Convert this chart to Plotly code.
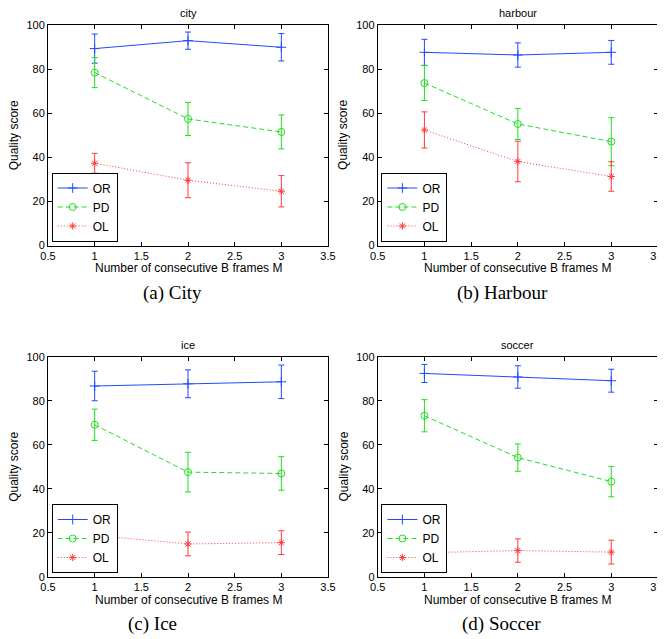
import plotly.graph_objects as go

# ---------------- data ----------------
m_frames = [1, 2, 3]
x_ticks = [0.5, 1, 1.5, 2, 2.5, 3, 3.5]
x_tick_labels = ["0.5", "1", "1.5", "2", "2.5", "3", "3.5"]
y_ticks = [0, 20, 40, 60, 80, 100]
y_tick_labels = ["0", "20", "40", "60", "80", "100"]

series_names = ["OR", "PD", "OL"]
panel_titles = ["city", "harbour", "ice", "soccer"]
captions = ["(a) City", "(b) Harbour", "(c) Ice", "(d) Soccer"]

city_or = [89.3, 92.9, 89.9]
city_or_err = [6.6, 3.9, 6.2]
city_pd = [78.4, 57.4, 51.5]
city_pd_err = [6.8, 7.5, 7.7]
city_ol = [37.3, 29.6, 24.6]
city_ol_err = [4.5, 7.9, 7.1]

harbour_or = [87.6, 86.4, 87.6]
harbour_or_err = [5.9, 5.5, 5.4]
harbour_pd = [73.7, 55.1, 47.1]
harbour_pd_err = [7.9, 7.0, 10.9]
harbour_ol = [52.4, 38.1, 31.3]
harbour_ol_err = [8.2, 9.2, 6.7]

ice_or = [86.7, 87.7, 88.6]
ice_or_err = [6.7, 6.3, 7.6]
ice_pd = [69.1, 47.6, 47.0]
ice_pd_err = [7.1, 9.0, 7.6]
ice_ol = [18.9, 15.0, 15.6]
ice_ol_err = [6.6, 5.4, 5.4]

soccer_or = [92.4, 90.8, 89.1]
soccer_or_err = [4.1, 5.1, 5.2]
soccer_pd = [73.2, 54.2, 43.3]
soccer_pd_err = [7.3, 6.2, 6.9]
soccer_ol = [11.0, 12.0, 11.3]
soccer_ol_err = [5.0, 5.3, 5.4]

panels = [
    [(city_or, city_or_err), (city_pd, city_pd_err), (city_ol, city_ol_err)],
    [(harbour_or, harbour_or_err), (harbour_pd, harbour_pd_err), (harbour_ol, harbour_ol_err)],
    [(ice_or, ice_or_err), (ice_pd, ice_pd_err), (ice_ol, ice_ol_err)],
    [(soccer_or, soccer_or_err), (soccer_pd, soccer_pd_err), (soccer_ol, soccer_ol_err)],
]

# ---------------- styling ----------------
# the page body has an 8px default margin, so the figure is drawn 8px smaller
OFF = 8
W, H = 665 - OFF, 639 - OFF
styles = [
    dict(color="#1f4cff", dash="solid", symbol="cross-thin-open", size=7),
    dict(color="#22dd22", dash="5px,3px", symbol="circle-open", size=7),
    dict(color="#ff3b3b", dash="1px,2px", symbol="asterisk-open", size=6),
]

def px_x(p):
    return (p - OFF) / W

def px_y(p):
    return 1 - (p - OFF) / H

col_dom = [(48, 328), (377.7, 658)]
row_dom = [(25, 245.5), (356.7, 577)]
AXFONT = dict(family="Liberation Sans, Arial, sans-serif", size=11, color="black")

fig = go.Figure()
layout = dict(
    width=W, height=H,
    margin=dict(l=0, r=0, t=0, b=0, pad=0, autoexpand=False),
    paper_bgcolor="white", plot_bgcolor="white",
    showlegend=True,
    annotations=[],
)

for i, panel in enumerate(panels):
    r, c = divmod(i, 2)
    suffix = "" if i == 0 else str(i + 1)
    xa, ya = "x" + suffix, "y" + suffix
    leg = "legend" + suffix
    for k, (vals, errs) in enumerate(panel):
        st = styles[k]
        fig.add_trace(go.Scatter(
            x=m_frames, y=vals, mode="lines+markers", name=series_names[k],
            xaxis=xa, yaxis=ya, legend=leg,
            line=dict(color=st["color"], width=1, dash=st["dash"]),
            marker=dict(symbol=st["symbol"], size=st["size"], color=st["color"],
                        line=dict(color=st["color"], width=1)),
            error_y=dict(type="data", array=errs, visible=True, color=st["color"],
                         thickness=1, width=3),
        ))
    x0, x1 = col_dom[c]
    y0, y1 = row_dom[r]
    axcommon = dict(showline=True, linecolor="black", linewidth=1, mirror="allticks",
                    ticks="inside", ticklen=4, tickcolor="black", tickwidth=1,
                    showgrid=False, zeroline=False, tickfont=AXFONT, automargin=False,
                    ticklabeloverflow="allow")
    layout["xaxis" + suffix] = dict(domain=[px_x(x0), px_x(x1)], range=[0.5, 3.5],
                                    tickmode="array", tickvals=x_ticks, ticktext=x_tick_labels,
                                    anchor=ya, **axcommon)
    layout["yaxis" + suffix] = dict(domain=[px_y(y1), px_y(y0)], range=[0, 100],
                                    tickmode="array", tickvals=y_ticks, ticktext=y_tick_labels,
                                    anchor=xa, **axcommon)
    layout[leg] = dict(x=px_x(x0 + 3.7), y=px_y(y1 - 4), xref="paper", yref="paper",
                       xanchor="left", yanchor="bottom",
                       bgcolor="white", bordercolor="black", borderwidth=1,
                       font=dict(family="Liberation Sans, Arial, sans-serif", size=12, color="black"),
                       itemwidth=30, tracegroupgap=0)
    cx = (x0 + x1) / 2
    # title
    layout["annotations"].append(dict(text=panel_titles[i], x=px_x(cx), y=px_y(y0 - 12),
                                      xref="paper", yref="paper", showarrow=False,
                                      xanchor="center", yanchor="middle", font=AXFONT))
    # x label
    layout["annotations"].append(dict(text="Number of consecutive B frames M", x=px_x(cx),
                                      y=px_y(y1 + 22.5), xref="paper", yref="paper",
                                      showarrow=False, xanchor="center", yanchor="middle",
                                      font=dict(family=AXFONT["family"], size=12, color="black")))
    # y label
    layout["annotations"].append(dict(text="Quality score", x=px_x(x0 - 34), y=px_y((y0 + y1) / 2),
                                      xref="paper", yref="paper", showarrow=False, textangle=-90,
                                      xanchor="center", yanchor="middle",
                                      font=dict(family=AXFONT["family"], size=12, color="black")))

cap_pos = [(172, 293), (502, 293), (152, 624), (501, 624)]
for i, (cx, cy) in enumerate(cap_pos):
    layout["annotations"].append(dict(text=captions[i], x=px_x(cx), y=px_y(cy),
                                      xref="paper", yref="paper", showarrow=False,
                                      xanchor="center", yanchor="middle",
                                      font=dict(family="Liberation Serif, Times New Roman, serif",
                                                size=19, color="black")))

fig.update_layout(**layout)
fig.write_html("out.html")
